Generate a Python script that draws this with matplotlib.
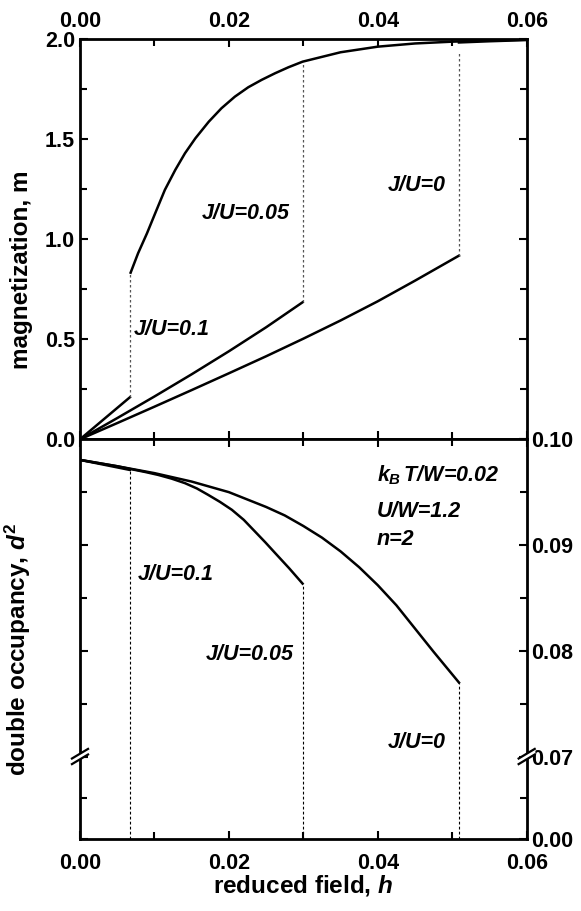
import matplotlib
matplotlib.use("Agg")
import matplotlib.pyplot as plt
from matplotlib.ticker import MultipleLocator, FixedLocator

plt.rcParams['font.family'] = ['Liberation Sans', 'DejaVu Sans']
plt.rcParams['font.weight'] = 'bold'
plt.rcParams['mathtext.fontset'] = 'custom'
plt.rcParams['mathtext.it'] = 'Liberation Sans:italic:bold'
plt.rcParams['mathtext.rm'] = 'Liberation Sans:bold'
plt.rcParams['mathtext.bf'] = 'Liberation Sans:bold'

# magnetization, lower branches
h_m0_low = [0, 0.005, 0.01, 0.015, 0.02, 0.025, 0.03, 0.035, 0.04, 0.045, 0.0509]
m_m0_low = [0, 0.081, 0.163, 0.246, 0.330, 0.415, 0.503, 0.594, 0.690, 0.793, 0.918]
h_m005_low = [0, 0.005, 0.01, 0.015, 0.02, 0.025, 0.0299]
m_m005_low = [0, 0.106, 0.214, 0.325, 0.440, 0.560, 0.685]
h_m01_low = [0, 0.0067]
m_m01_low = [0, 0.21]

# magnetization, upper (saturated) branch
h_up = [0.0068, 0.0078, 0.009, 0.0101, 0.0114, 0.0128, 0.0141, 0.0155, 0.0173,
        0.019, 0.0208, 0.0226, 0.0244, 0.0262, 0.028, 0.0299,
        0.035, 0.040, 0.045, 0.050, 0.055, 0.06]
m_up = [0.833, 0.930, 1.030, 1.130, 1.247, 1.347, 1.430, 1.505, 1.588,
        1.655, 1.713, 1.760, 1.797, 1.830, 1.860, 1.888,
        1.935, 1.963, 1.979, 1.988, 1.994, 1.998]
h_up0 = [0.0509, 0.055, 0.06]
m_up0 = [1.984, 1.99, 1.996]

# jump positions
h_jump = [0.0067, 0.0299, 0.0509]
m_jump_lo = [0.21, 0.685, 0.918]
m_jump_hi = [0.833, 1.888, 1.93]

# double occupancy
h_d01 = [0, 0.0067]
d_d01 = [0.09805, 0.0971]
h_d005 = [0, 0.005, 0.0067, 0.0088, 0.0105, 0.0123, 0.0141, 0.0157, 0.0172,
          0.0188, 0.0204, 0.0220, 0.0235, 0.0249, 0.0262, 0.0281, 0.0299]
d_d005 = [0.09805, 0.09745, 0.0972, 0.0969, 0.09663, 0.09628, 0.09585, 0.09535, 0.09475,
          0.09408, 0.09333, 0.09238, 0.09128, 0.09025, 0.08925, 0.08780, 0.08635]
h_d0 = [0, 0.005, 0.01, 0.015, 0.02, 0.025, 0.0275, 0.03, 0.0325, 0.035, 0.0375,
        0.04, 0.0425, 0.045, 0.0475, 0.0509]
d_d0 = [0.09805, 0.09745, 0.0968, 0.0960, 0.0950, 0.0936, 0.0928, 0.0918, 0.0907, 0.0894, 0.0879,
        0.0862, 0.0843, 0.0821, 0.0799, 0.0770]
d_jump = [0.0971, 0.08635, 0.0770]

d_bottom = 0.06217   # position of the "0.00" label below the axis break
d_break = 0.07

fig = plt.figure(figsize=(5.81, 9.11), dpi=100)
ax1 = fig.add_axes([0.1377, 0.5178, 0.7688, 0.4391])
ax2 = fig.add_axes([0.1377, 0.0787, 0.7688, 0.4391])

lw = 1.8
fs_tick = 15.5
fs_lab = 17.5
fs_txt = 15.5

# ---- top panel
ax1.plot(h_m0_low, m_m0_low, color='black', lw=lw)
ax1.plot(h_m005_low, m_m005_low, color='black', lw=lw)
ax1.plot(h_m01_low, m_m01_low, color='black', lw=lw)
ax1.plot(h_up, m_up, color='black', lw=lw)
ax1.plot(h_up0, m_up0, color='black', lw=lw)
for x, lo, hi in zip(h_jump, m_jump_lo, m_jump_hi):
    ax1.plot([x, x], [lo, hi], color='#555555', lw=0.9, ls=(0, (2, 2)))

ax1.set_xlim(0, 0.06)
ax1.set_ylim(0, 2.0)
ax1.xaxis.set_major_locator(MultipleLocator(0.02))
ax1.xaxis.set_minor_locator(MultipleLocator(0.01))
ax1.yaxis.set_major_locator(MultipleLocator(0.5))
ax1.yaxis.set_minor_locator(MultipleLocator(0.25))
ax1.tick_params(which='both', direction='in', top=True, right=True, bottom=True,
                labeltop=True, labelbottom=False, width=1.5, labelsize=fs_tick)
ax1.tick_params(which='major', length=6)
ax1.tick_params(which='minor', length=5)
ax1.tick_params(axis='x', pad=5)
ax1.xaxis.set_major_formatter(plt.FuncFormatter(lambda v, p: f"{v:.2f}"))
ax1.yaxis.set_major_formatter(plt.FuncFormatter(lambda v, p: f"{v:.1f}"))
ax1.set_ylabel("magnetization, m", fontsize=fs_lab, fontweight='bold')
ax1.yaxis.set_label_coords(-0.105, 0.425)

ax1.text(0.0414, 1.27, "J/U=0", fontsize=fs_txt, style='italic', va='center')
ax1.text(0.0164, 1.127, "J/U=0.05", fontsize=fs_txt, style='italic', va='center')
ax1.text(0.0072, 0.551, "J/U=0.1", fontsize=fs_txt, style='italic', va='center')

# ---- bottom panel
ax2.plot(h_d0, d_d0, color='black', lw=lw)
ax2.plot(h_d005, d_d005, color='black', lw=lw)
ax2.plot(h_d01, d_d01, color='black', lw=lw)
for x, top in zip(h_jump, d_jump):
    ax2.plot([x, x], [d_bottom, top], color='black', lw=0.8, ls=(0, (2.5, 2)))

ax2.set_xlim(0, 0.06)
ax2.set_ylim(d_bottom, 0.10)
ax2.xaxis.set_major_locator(MultipleLocator(0.02))
ax2.xaxis.set_minor_locator(MultipleLocator(0.01))
ax2.yaxis.set_major_locator(FixedLocator([d_bottom, 0.07, 0.08, 0.09, 0.10]))
ax2.yaxis.set_minor_locator(FixedLocator([0.075, 0.085, 0.095, (d_bottom + d_break) / 2]))
ax2.set_yticklabels(["0.00", "0.07", "0.08", "0.09", "0.10"])
ax2.tick_params(which='both', direction='in', top=True, right=True, left=True,
                labelleft=False, labelright=True, width=1.5, labelsize=fs_tick)
ax2.tick_params(which='major', length=6)
ax2.tick_params(which='minor', length=5)
ax2.tick_params(axis='x', pad=10)
ax2.xaxis.set_major_formatter(plt.FuncFormatter(lambda v, p: f"{v:.2f}"))
ax2.set_ylabel("double occupancy, $d^2$", fontsize=fs_lab, fontweight='bold')
ax2.yaxis.set_label_coords(-0.105, 0.475)
ax2.set_xlabel("reduced field, $h$", fontsize=fs_lab, fontweight='bold', labelpad=-1)

ax2.text(0.0078, 0.0872, "J/U=0.1", fontsize=fs_txt, style='italic', va='center')
ax2.text(0.0169, 0.0796, "J/U=0.05", fontsize=fs_txt, style='italic', va='center')
ax2.text(0.0414, 0.07135, "J/U=0", fontsize=fs_txt, style='italic', va='center')
ax2.text(0.0399, 0.09663, r"$k_B\,$T/W=0.02", fontsize=fs_txt, style='italic', va='center')
ax2.text(0.0399, 0.09317, "U/W=1.2", fontsize=fs_txt, style='italic', va='center')
ax2.text(0.0399, 0.0905, "n=2", fontsize=fs_txt, style='italic', va='center')

for ax in (ax1, ax2):
    for s in ax.spines.values():
        s.set_linewidth(2.0)

# axis break marks on both y spines
yb = (d_break - d_bottom) / (0.10 - d_bottom)
tr = ax2.transAxes
for xs in (0.0, 1.0):
    dx = 0.018
    dy = 0.012
    ax2.fill([xs - dx, xs + dx, xs + dx, xs - dx],
             [yb - dy - 0.006, yb + dy - 0.006, yb + dy + 0.006, yb - dy + 0.006],
             color='white', transform=tr, clip_on=False, zorder=5)
    for off in (-0.007, 0.007):
        ax2.plot([xs - dx, xs + dx], [yb - dy + off, yb + dy + off], color='black',
                 lw=1.6, transform=tr, clip_on=False, zorder=6)

fig.savefig("out.png", dpi=100)
